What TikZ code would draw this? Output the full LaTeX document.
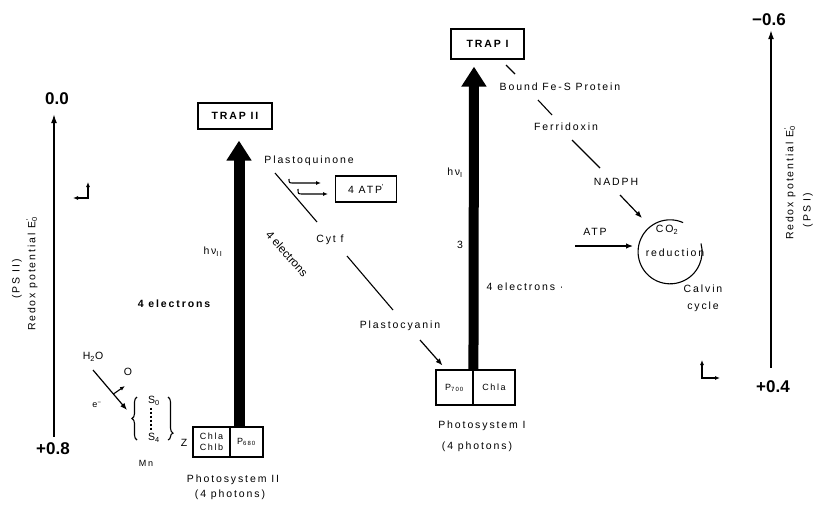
\documentclass[tikz,border=0pt]{standalone}
\usepackage{fontspec}
\setmainfont{Liberation Sans}
\newfontfamily\lsp{Liberation Sans}[LetterSpace=18]
\usetikzlibrary{arrows.meta,calc,decorations.pathreplacing}
\begin{document}
\begin{tikzpicture}[x=1pt,y=-1pt,
  lbl/.style={inner sep=0pt, font=\lsp\fontsize{10.5}{12.5}\selectfont},
  slbl/.style={inner sep=0pt, font=\lsp\fontsize{9}{11}\selectfont},
  blbl/.style={inner sep=0pt, font=\lsp\bfseries\fontsize{10.5}{12.5}\selectfont},
  axlbl/.style={inner sep=0pt, font=\bfseries\fontsize{17}{19}\selectfont},
  trapbox/.style={draw, line width=1.3pt, inner sep=0pt, minimum width=74pt, minimum height=26pt, font=\lsp\bfseries\fontsize{10.5}{12.5}\selectfont},
  cell/.style={draw, line width=1.1pt, inner sep=0pt, align=center, font=\lsp\fontsize{9}{10.5}\selectfont},
  thinline/.style={line width=1.1pt},
  arr/.style={line width=1.2pt, -{Latex[length=7pt,width=5.5pt]}},
  sarr/.style={line width=1.1pt, -{Latex[length=5pt,width=4pt]}},
  dblarr/.style={line width=1.2pt, {Latex[length=5pt,width=4pt]}-{Latex[length=5pt,width=4pt]}},
  bigarrow/.style={line width=11pt, -{Triangle[length=20pt,width=24pt]}},
  axisline/.style={line width=1.3pt, -{Latex[length=9pt,width=6pt]}},
]
\useasboundingbox (0,0) rectangle (814,506);

% axes and their labels
\node[axlbl] (zero) at (57,99) {0.0};
\node[axlbl] (p08) at (53,449) {+0.8};
\node[axlbl] (m06) at (769,20) {−0.6};
\node[axlbl] (p04) at (773,387) {+0.4};
\draw[axisline] ($(p08.north)+(1,-6)$) -- ($(zero.south)+(-3,9)$);
\draw[axisline] ($(p04.north)+(-2,-13)$) -- ($(m06.south)+(2,4)$);
\node[lbl, rotate=90] (ps2lab) at (17,279) {(PS II)};
\node[lbl, rotate=90] (rp2) at (32,274) {Redox potential E\rlap{\textsuperscript{\,'}}\textsubscript{0}};
\node[lbl, rotate=90] (rp1) at (790,183) {Redox potential E\rlap{\textsuperscript{\,'}}\textsubscript{0}};
\node[lbl, rotate=90] (ps1lab) at (808,210) {(PS I)};

% small bent arrows
\draw[dblarr] (88,182) -- (88,198) -- (73,198);
\draw[dblarr] (702,360) -- (702,378) -- (720,378);

% Photosystem II
\node[trapbox] (trapii) at (235,116) {TRAP II};
\node[cell, minimum width=37pt, minimum height=30pt] (chl) at (211.5,442) {Chla\\Chlb};
\node[cell, minimum width=33pt, minimum height=30pt] (p680) at (246.5,442) {P\textsubscript{680}};
\draw[bigarrow] ([xshift=-7.5pt]p680.north) -- ([xshift=4pt,yshift=-11pt]trapii.south);
\node[lbl] (ps2name) at (233,480) {Photosystem II};
\node[lbl] (ph2) at (230,495) {(4 photons)};
\node[lbl] (hv2) at (213,252) {h\,ν\textsubscript{II}};
\node[blbl] (el2) at (174,304) {4 electrons};

% water splitting
\node[lbl] (h2o) at (93,357) {H\textsubscript{2}O};
\node[lbl] (oo) at (128,372) {O};
\node[slbl] (em) at (97,405) {e\textsuperscript{−}};
\coordinate (bl) at (132,418);
\coordinate (hs) at ($(h2o)+(0,13)$);
\coordinate (he) at ($(bl)+(-5,-8)$);
\coordinate (hm) at ($(hs)!0.6!(he)$);
\draw[arr] (hs) -- (he);
\draw[sarr] (hm) -- ($(oo)+(-3,14)$);
\node[lbl] (s0) at (154,401) {S\textsubscript{0}};
\node[lbl] (s4) at (154,438) {S\textsubscript{4}};
\draw[line width=1.6pt, dash pattern=on 2pt off 2pt] ([xshift=-3pt,yshift=-2pt]s0.south) -- ([xshift=-3pt,yshift=2pt]s4.north);
\draw[thinline, decorate, decoration={brace, amplitude=5pt}] (137,440) -- (137,397);
\draw[thinline, decorate, decoration={brace, amplitude=5pt, aspect=0.84}] (168,397) -- (168,440);
\node[lbl] (zz) at (184,443) {Z};
\node[slbl] (mn) at (146,463) {Mn};

% Photosystem I
\node[trapbox, minimum width=73pt, minimum height=30pt] (trapi) at (487.5,44) {TRAP I};
\node[cell, minimum width=37pt, minimum height=35pt] (p700) at (454.5,387.5) {P\textsubscript{700}};
\node[cell, minimum width=42pt, minimum height=35pt] (chla) at (494,387.5) {Chla};
\draw[bigarrow, line width=10pt] ([xshift=1pt]chla.north west) -- ([xshift=-13.5pt,yshift=-7pt]trapi.south);
\node[lbl] (ps1name) at (482,426) {Photosystem I};
\node[lbl] (ph1) at (477,447) {(4 photons)};
\node[lbl] (hv1) at (455,173) {h\,ν\textsubscript{I}};
\node[lbl] (three) at (460,245) {3};
\node[lbl] (el1) at (525,287) {4 electrons ·};

% electron transport chain
\node[lbl] (pq) at (309,161) {Plastoquinone};
\node[draw, line width=1.2pt, minimum width=61pt, minimum height=26pt, inner sep=0pt, font=\lsp\fontsize{10.5}{12.5}\selectfont] (atp) at (366,189) {4 ATP\textsuperscript{'}};
\node[lbl] (cytf) at (330,240) {Cyt f};
\node[inner sep=0pt, font=\fontsize{11.5}{13}\selectfont, rotate=-48] (el4) at (287,254) {4 electrons};
\node[lbl] (pc) at (400,326) {Plastocyanin};
\draw[thinline] ($(pq)+(-34,12)$) -- ($(cytf)+(-13,-18)$);
\draw[sarr] ($(atp)+(-77,-10)$) .. controls ($(atp)+(-77,-6)$) .. ($(atp)+(-72,-6)$) -- ($(atp)+(-45,-6)$);
\draw[sarr] ($(atp)+(-68,0)$) .. controls ($(atp)+(-68,5)$) .. ($(atp)+(-63,5)$) -- ($(atp)+(-38,5)$);
\draw[thinline] ($(cytf)+(17,16)$) -- ($(pc)+(-7,-16)$);
\draw[arr] ($(pc)+(20,14)$) -- ($(p700.north west)+(7,-4)$);

% reducing side
\node[lbl] (fes) at (560,87) {Bound Fe-S Protein};
\node[lbl] (fd) at (566,127) {Ferridoxin};
\node[lbl] (nadph) at (616,182) {NADPH};
\node[lbl] (atp2) at (595,232) {ATP};
\node[circle, minimum size=64pt, inner sep=0pt] (cyc) at (670,252) {};
\begin{scope}[y=1pt]
\draw[thinline] (cyc.66) arc[start angle=66, end angle=375, radius=32pt];
\end{scope}
\node[lbl] (co2) at (667,230) {CO\textsubscript{2}};
\node[lbl] (red) at (675,253) {reduction};
\node[lbl, align=center, font=\lsp\fontsize{10.5}{17}\selectfont] (calvin) at (703,298) {Calvin\\cycle};
\draw[thinline] ($(trapi)+(18.5,21)$) -- ($(fes)+(-45,-13)$);
\draw[thinline] ($(fes)+(-22,13)$) -- ($(fd)+(-14,-12)$);
\draw[thinline] ($(fd)+(6,13)$) -- ($(nadph)+(-16,-14)$);
\draw[arr] ($(nadph)+(4,13)$) -- ($(cyc)+(-28,-34)$);
\draw[arr] ($(atp2)+(-20,14)$) -- ($(cyc)+(-37,-6)$);
\end{tikzpicture}
\end{document}
